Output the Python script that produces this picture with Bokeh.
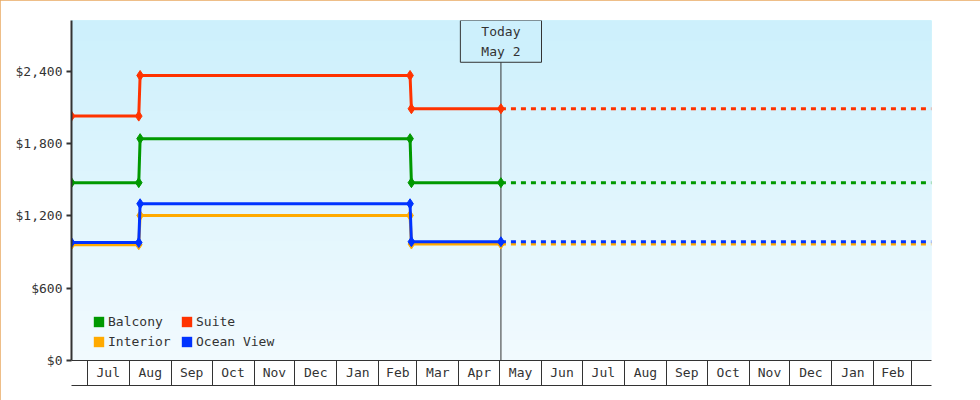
from datetime import datetime, timezone
from bokeh.plotting import figure
from bokeh.models import (Range1d, LinearAxis, FixedTicker, NumeralTickFormatter,
                          Legend, LegendItem, Label)
from bokeh.embed import file_html
from bokeh.resources import INLINE


def ms(s):
    fmt = "%Y-%m-%d %H:%M" if " " in s else "%Y-%m-%d"
    return int(datetime.strptime(s, fmt).replace(tzinfo=timezone.utc).timestamp() * 1000)


# ---------------- data ----------------
x_start = "2021-06-19 10:00"
x_end = "2023-03-15 10:00"
today = "2022-05-02"
today_text = "Today\nMay 2"

price_dates = ["2021-06-19 10:00", "2021-08-08", "2021-08-09",
               "2022-02-24", "2022-02-25", "2022-05-02"]

series_names = ["Interior", "Ocean View", "Balcony", "Suite"]
interior = [960, 960, 1203, 1203, 966, 966]
ocean_view = [978, 978, 1300, 1300, 985, 985]
balcony = [1475, 1475, 1840, 1840, 1475, 1475]
suite = [2027, 2027, 2364, 2364, 2088, 2088]
series_colors = ["#ffaa00", "#0033ff", "#009900", "#ff3300"]

legend_order = ["Balcony", "Suite", "Interior", "Ocean View"]

month_starts = ["2021-07-01", "2021-08-01", "2021-09-01", "2021-10-01", "2021-11-01",
                "2021-12-01", "2022-01-01", "2022-02-01", "2022-03-01", "2022-04-01",
                "2022-05-01", "2022-06-01", "2022-07-01", "2022-08-01", "2022-09-01",
                "2022-10-01", "2022-11-01", "2022-12-01", "2023-01-01", "2023-02-01",
                "2023-03-01"]
month_labels = ["Jul", "Aug", "Sep", "Oct", "Nov", "Dec", "Jan", "Feb", "Mar", "Apr",
                "May", "Jun", "Jul", "Aug", "Sep", "Oct", "Nov", "Dec", "Jan", "Feb"]

y_ticks = [0, 600, 1200, 1800, 2400]
y_max = 2820

# ---------------- figure ----------------
FONT = "DejaVu Sans Mono"
INK = "#333333"

x0, x1 = ms(x_start), ms(x_end)
p = figure(width=980, height=400, x_range=Range1d(x0, x1), y_range=Range1d(0, y_max),
           x_axis_type=None, y_axis_type=None, output_backend="svg",
           toolbar_location=None, min_border_left=71, min_border_right=49,
           min_border_top=20, min_border_bottom=40, outline_line_color=None,
           background_fill_color="#f0faff", border_fill_color="white")
p.styles = {"outline": "1px solid #e8a860", "outline-offset": "-1px"}

# background gradient (top light cyan -> bottom near white), overlapping bands
n_bands = 34
top_c = (205, 240, 252)
bot_c = (241, 250, 254)
band_b, band_c = [], []
for i in range(n_bands):
    f = i / (n_bands - 1)
    c = tuple(round(bot_c[k] + (top_c[k] - bot_c[k]) * f) for k in range(3))
    band_b.append(y_max * i / n_bands)
    band_c.append("#%02x%02x%02x" % c)
p.quad(left=x0, right=x1, bottom=band_b, top=y_max, fill_color=band_c, line_color=None)

# today line
t_ms = ms(today)
p.segment(x0=[t_ms], y0=[0], x1=[t_ms], y1=[y_max], line_color=INK, line_width=1)

# series
xs = [ms(d) for d in price_dates]
all_series = [interior, ocean_view, balcony, suite]
legend_renderers = {}
for name, vals, col in zip(series_names, all_series, series_colors):
    p.line(x=[t_ms, x1], y=[vals[-1], vals[-1]], line_color=col, line_width=3,
           line_dash="5 5")
    p.line(x=xs, y=vals, line_color=col, line_width=3)
    p.scatter(x=xs, y=vals, marker="diamond", size=10, fill_color=col, line_color=col)
    # legend swatch renderer (kept below the visible y range)
    legend_renderers[name] = p.quad(left=[x0], right=[x1], top=[-10], bottom=[-20],
                                    fill_color=col, line_color=None)

# y axis
yaxis = LinearAxis(ticker=FixedTicker(ticks=y_ticks),
                   formatter=NumeralTickFormatter(format="$0,0"),
                   axis_line_color=INK, axis_line_width=2,
                   major_tick_out=5, major_tick_in=0, major_tick_line_width=2,
                   major_tick_line_color=INK, minor_tick_line_color=None,
                   major_label_text_font=FONT, major_label_text_font_size="13px",
                   major_label_text_color=INK, major_label_standoff=4)
p.add_layout(yaxis, "left")

# x axis: month table (dividers), then bottom rule carrying the month labels
bounds = [ms(d) for d in month_starts]
mids = [(a + b) // 2 for a, b in zip(bounds[:-1], bounds[1:])]
xaxis = LinearAxis(ticker=FixedTicker(ticks=[], minor_ticks=bounds),
                   major_tick_line_color=None, major_tick_out=0, major_tick_in=0,
                   minor_tick_out=25, minor_tick_in=0, minor_tick_line_color=INK,
                   minor_tick_line_width=1, axis_line_color=INK, axis_line_width=1,
                   major_label_standoff=0)
p.add_layout(xaxis, "below")
xaxis2 = LinearAxis(ticker=FixedTicker(ticks=mids),
                    major_label_overrides={m: l for m, l in zip(mids, month_labels)},
                    axis_line_color=INK, axis_line_width=1,
                    major_tick_line_color=None, minor_tick_line_color=None,
                    major_tick_out=0, major_tick_in=0, major_label_standoff=-21,
                    major_label_text_font=FONT, major_label_text_font_size="13px",
                    major_label_text_color=INK)
p.add_layout(xaxis2, "below")

# legend
items = [LegendItem(label=n, renderers=[legend_renderers[n]]) for n in legend_order]
legend = Legend(items=items, location=(21, 11), orientation="horizontal", ncols=2,
                glyph_width=13, glyph_height=13, label_height=13, label_width=67,
                spacing=5, padding=0, margin=0, label_standoff=3,
                background_fill_alpha=0, border_line_color=None,
                label_text_font=FONT, label_text_font_size="13px",
                label_text_color=INK)
p.add_layout(legend, "center")

# today box
lbl = Label(x=t_ms, y=y_max, text=today_text, anchor="top_center", text_align="center",
            text_font=FONT, text_font_size="13px", text_color=INK,
            text_line_height=1.385, border_line_color=INK, border_line_width=1,
            background_fill_color="#cdf0fc", padding=(21, 3))
p.add_layout(lbl)

open("out.html", "w").write(file_html(p, INLINE))
